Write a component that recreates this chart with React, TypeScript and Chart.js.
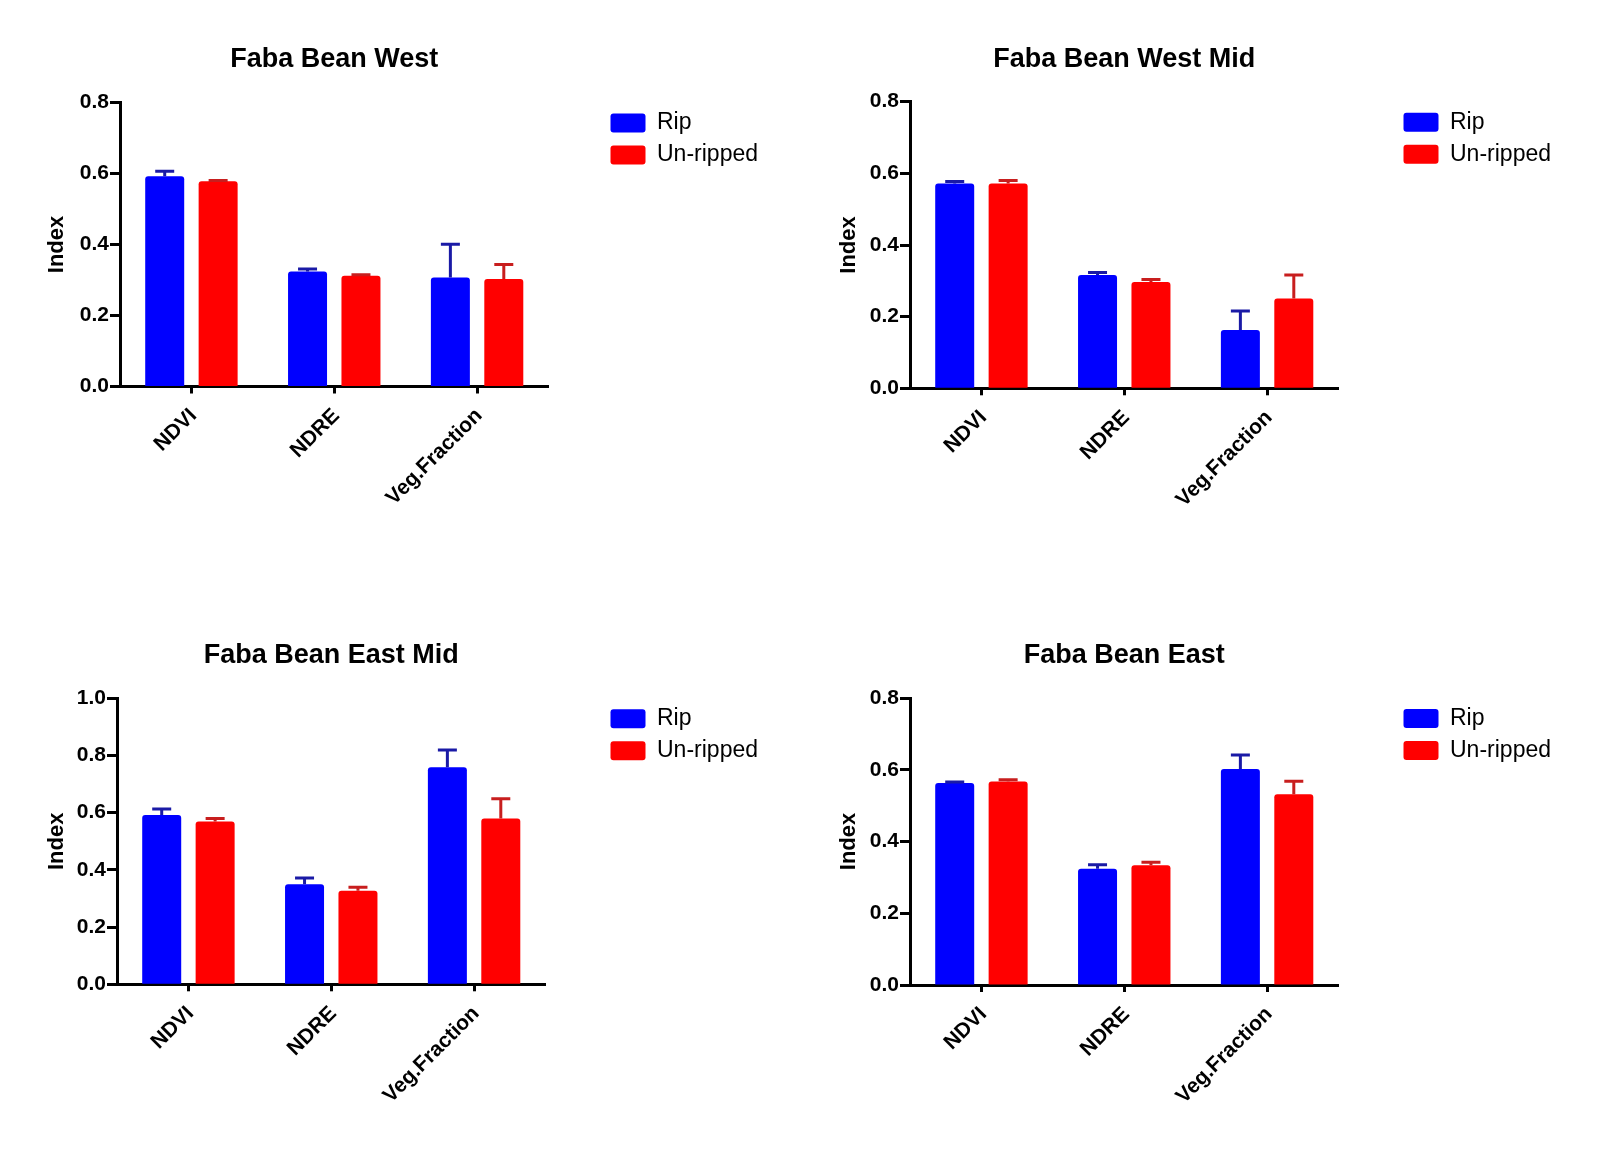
import React, { useEffect, useRef } from 'react';
import { Chart, registerables } from 'chart.js';

Chart.register(...registerables);

// ---------------- data ----------------
const categories = ['NDVI', 'NDRE', 'Veg.Fraction'];
const seriesNames = ['Rip', 'Un-ripped'];
const panelTitles = ['Faba Bean West', 'Faba Bean West Mid', 'Faba Bean East Mid', 'Faba Bean East'];
const yMaxes = [0.8, 0.8, 1.0, 0.8];
const yStep = 0.2;
const yAxisTitle = 'Index';

const westRip = [0.592, 0.324, 0.307];
const westRipErr = [0.014, 0.007, 0.094];
const westUnripped = [0.578, 0.312, 0.303];
const westUnrippedErr = [0.002, 0.003, 0.041];

const westMidRip = [0.572, 0.316, 0.163];
const westMidRipErr = [0.005, 0.007, 0.053];
const westMidUnripped = [0.572, 0.297, 0.251];
const westMidUnrippedErr = [0.008, 0.007, 0.065];

const eastMidRip = [0.592, 0.35, 0.759];
const eastMidRipErr = [0.021, 0.022, 0.06];
const eastMidUnripped = [0.569, 0.327, 0.58];
const eastMidUnrippedErr = [0.011, 0.012, 0.069];

const eastRip = [0.563, 0.324, 0.602];
const eastRipErr = [0.003, 0.011, 0.039];
const eastUnripped = [0.567, 0.334, 0.532];
const eastUnrippedErr = [0.005, 0.008, 0.036];

const ripValues = [westRip, westMidRip, eastMidRip, eastRip];
const ripErrors = [westRipErr, westMidRipErr, eastMidRipErr, eastRipErr];
const unrippedValues = [westUnripped, westMidUnripped, eastMidUnripped, eastUnripped];
const unrippedErrors = [westUnrippedErr, westMidUnrippedErr, eastMidUnrippedErr, eastUnrippedErr];

// ---------------- layout / style ----------------
const FONT = "'Liberation Sans', Arial, Helvetica, sans-serif";
const W = 790;
const H = 596;
const AXIS_LEFT = 120; // local x of y axis
const AXIS_RIGHT = 548; // local x of end of x axis
const TITLE_CENTER = 60;
const TITLE_SIZE = 27;
const LEGEND_FONT = 23;
const LEGEND_BOX_W = 35;
const LEGEND_PAD = 9;

const panels = [
  { left: 0, top: 0, areaTop: 102.5, areaBottom: 386.5, gap: 53, indexX: 56.5 },
  { left: 790, top: 0, areaTop: 101.7, areaBottom: 388.3, gap: 56, indexX: 59 },
  { left: -3, top: 596, areaTop: 102.3, areaBottom: 388.3, gap: 56, indexX: 60 },
  { left: 790, top: 596, areaTop: 102, areaBottom: 389, gap: 56, indexX: 59 },
];

const colors = ['#0000ff', '#ff0000'];
const errColors = ['#1a1aa6', '#c81e1e'];

const errorBarPlugin = {
  id: 'errorBars',
  afterDatasetsDraw(chart: any) {
    const { ctx } = chart;
    const yScale = chart.scales.y;
    chart.data.datasets.forEach((ds: any, i: number) => {
      const meta = chart.getDatasetMeta(i);
      if (meta.hidden) return;
      meta.data.forEach((bar: any, j: number) => {
        const v = ds.data[j];
        const e = ds.errors[j];
        const yTop = yScale.getPixelForValue(v + e);
        const yBase = yScale.getPixelForValue(v);
        ctx.save();
        ctx.strokeStyle = ds.errorColor;
        ctx.lineWidth = 3;
        ctx.beginPath();
        ctx.moveTo(bar.x, yBase);
        ctx.lineTo(bar.x, yTop);
        ctx.moveTo(bar.x - 9.5, yTop);
        ctx.lineTo(bar.x + 9.5, yTop);
        ctx.stroke();
        ctx.restore();
      });
    });
  },
};

function measureLegendWidth(): number {
  const c = document.createElement('canvas');
  const ctx = c.getContext('2d');
  let tw = 100;
  if (ctx) {
    ctx.font = `normal ${LEGEND_FONT}px ${FONT}`;
    tw = Math.max(...seriesNames.map((s) => ctx.measureText(s).width));
  }
  return Math.ceil(LEGEND_PAD + LEGEND_BOX_W + LEGEND_FONT / 2 + tw + 10);
}

function Panel({ index }: { index: number }) {
  const ref = useRef<HTMLCanvasElement | null>(null);
  const p = panels[index];

  useEffect(() => {
    if (!ref.current) return;
    const lineH = TITLE_SIZE * 1.2;
    const pT = TITLE_CENTER - lineH / 2;
    const pB = p.areaTop - pT - lineH;
    const yTitleLine = 22 * 1.2;
    const padLeft = p.indexX - yTitleLine / 2;
    const yWidth = AXIS_LEFT - padLeft;
    const legendW = measureLegendWidth();
    const padRight = W - AXIS_RIGHT - p.gap - legendW;
    const xHeight = H - p.areaBottom;

    const chart = new Chart(ref.current, {
      type: 'bar',
      data: {
        labels: categories,
        datasets: [
          {
            label: seriesNames[0],
            data: ripValues[index],
            errors: ripErrors[index],
            errorColor: errColors[0],
            backgroundColor: colors[0],
            borderWidth: 0,
            borderRadius: 3,
            barPercentage: 0.73,
            categoryPercentage: 0.748,
          } as any,
          {
            label: seriesNames[1],
            data: unrippedValues[index],
            errors: unrippedErrors[index],
            errorColor: errColors[1],
            backgroundColor: colors[1],
            borderWidth: 0,
            borderRadius: 3,
            barPercentage: 0.73,
            categoryPercentage: 0.748,
          } as any,
        ],
      },
      options: {
        responsive: false,
        animation: false,
        layout: { padding: { left: padLeft, right: padRight, top: 0, bottom: 0 } },
        plugins: {
          tooltip: { enabled: false },
          title: {
            display: true,
            text: panelTitles[index],
            fullSize: false,
            color: '#000',
            font: { family: FONT, size: TITLE_SIZE, weight: 'bold' },
            padding: { top: pT, bottom: pB },
          },
          legend: {
            display: true,
            position: 'right',
            align: 'start',
            fullSize: false,
            maxWidth: legendW,
            labels: {
              color: '#000',
              font: { family: FONT, size: LEGEND_FONT },
              boxWidth: LEGEND_BOX_W,
              boxHeight: 19,
              padding: LEGEND_PAD,
              useBorderRadius: true,
              borderRadius: 3,
            },
          },
        },
        scales: {
          x: {
            type: 'category',
            offset: true,
            grid: {
              display: true,
              drawOnChartArea: false,
              drawTicks: true,
              offset: false,
              tickLength: 7,
              tickWidth: 3,
              tickColor: '#000',
            },
            border: { display: true, color: '#000', width: 3 },
            ticks: {
              color: '#000',
              font: { family: FONT, size: 21, weight: 'bold' },
              minRotation: 45,
              maxRotation: 45,
              autoSkip: false,
              padding: 10,
              labelOffset: 2,
            },
            afterFit: (s: any) => {
              s.height = xHeight;
            },
          },
          y: {
            type: 'linear',
            min: 0,
            max: yMaxes[index],
            grid: {
              display: true,
              drawOnChartArea: false,
              drawTicks: true,
              tickLength: 10,
              tickWidth: 3,
              tickColor: '#000',
            },
            border: { display: true, color: '#000', width: 3 },
            ticks: {
              stepSize: yStep,
              color: '#000',
              padding: 1,
              font: { family: FONT, size: 21, weight: 'bold' },
              callback: (v: any) => Number(v).toFixed(1),
            },
            title: {
              display: true,
              text: yAxisTitle,
              color: '#000',
              font: { family: FONT, size: 22, weight: 'bold' },
              padding: { top: 0, bottom: 0 },
            },
            afterFit: (s: any) => {
              s.width = yWidth;
            },
          },
          gap: {
            type: 'linear',
            position: 'right',
            display: true,
            grid: { display: false },
            border: { display: false },
            ticks: { display: false },
            afterFit: (s: any) => {
              s.width = p.gap;
            },
          },
        },
      } as any,
      plugins: [errorBarPlugin],
    });
    return () => chart.destroy();
  }, [index]);

  return (
    <canvas
      ref={ref}
      width={W}
      height={H}
      style={{ position: 'absolute', left: p.left, top: p.top, width: W, height: H }}
    />
  );
}

export default function App() {
  return (
    <div style={{ position: 'absolute', left: 0, top: 0, width: 1599, height: 1151, background: '#fff', overflow: 'hidden' }}>
      {panels.map((_, i) => (
        <Panel key={i} index={i} />
      ))}
    </div>
  );
}
